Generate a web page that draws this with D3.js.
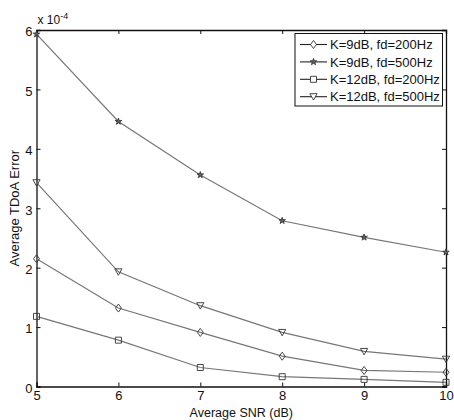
<!DOCTYPE html>
<html>
<head>
<meta charset="utf-8">
<script src="https://cdn.jsdelivr.net/npm/d3@7"></script>
<style>
  html, body { margin: 0; padding: 0; background: #fff; }
  svg { display: block; font-family: "Liberation Sans", Arial, sans-serif; }
</style>
</head>
<body>
<svg id="chart" width="454" height="420"></svg>
<script>
// SNR values on the x axis (dB)
const snr = [5, 6, 7, 8, 9, 10];

// Average TDoA error, in units of 1e-4
const k9fd200  = [2.15, 1.32, 0.91, 0.51, 0.27, 0.24];
const k9fd500  = [5.93, 4.46, 3.56, 2.79, 2.51, 2.26];
const k12fd200 = [1.18, 0.78, 0.32, 0.165, 0.12, 0.07];
const k12fd500 = [3.43, 1.93, 1.36, 0.91, 0.59, 0.46];

const seriesNames = ["K=9dB, fd=200Hz", "K=9dB, fd=500Hz", "K=12dB, fd=200Hz", "K=12dB, fd=500Hz"];
const seriesValues = [k9fd200, k9fd500, k12fd200, k12fd500];
const seriesMarkers = ["diamond", "star", "square", "triangle"];

const xTicks = [5, 6, 7, 8, 9, 10];
const yTicks = [0, 1, 2, 3, 4, 5, 6];

const svg = d3.select("#chart");
const margin = { left: 36.5, right: 8, top: 30, bottom: 33.5 };
const W = 454, H = 420;

const x = d3.scaleLinear().domain([5, 10]).range([margin.left, W - margin.right]);
const y = d3.scaleLinear().domain([0, 6]).range([H - margin.bottom, margin.top]);

const lineColor = "#777";
const markColor = "#333";

// Marker path generators centred on (0,0)
function markerPath(type) {
  switch (type) {
    case "diamond": return "M0,-4L3,0L0,4L-3,0Z";
    case "square": return "M-3,-3L3,-3L3,3L-3,3Z";
    case "triangle": return "M-3.6,-3L3.6,-3L0,3.4Z";
    case "star": return d3.symbol(d3.symbolStar, 13)();
  }
}

// Axes: ticks pointing inwards on all four sides
const plot = svg.append("g");
const axisFont = "13px";

const xAxis = d3.axisBottom(x).tickValues(xTicks).tickSize(-4).tickPadding(4).tickFormat(d3.format("d"));
const gx = plot.append("g").attr("transform", `translate(0,${y(0)})`).call(xAxis);
const xTop = d3.axisTop(x).tickValues(xTicks).tickSize(-4).tickFormat("");
const gxt = plot.append("g").attr("transform", `translate(0,${y(6)})`).call(xTop);

const yAxis = d3.axisLeft(y).tickValues(yTicks).tickSize(-4).tickPadding(4).tickFormat(d3.format("d"));
const gy = plot.append("g").attr("transform", `translate(${x(5)},0)`).call(yAxis);
const yRight = d3.axisRight(y).tickValues(yTicks).tickSize(-4).tickFormat("");
const gyr = plot.append("g").attr("transform", `translate(${x(10)},0)`).call(yRight);

[gx, gxt, gy, gyr].forEach(g => {
  g.select(".domain").attr("stroke", "#111").attr("stroke-width", 1.3);
  g.selectAll(".tick line").attr("stroke", "#111").attr("stroke-width", 1);
  g.selectAll("text").attr("font-size", axisFont).attr("fill", "#111")
    .attr("font-family", "'Liberation Sans', Arial, sans-serif");
});
gy.selectAll("text").attr("dy", "0.45em");
gx.selectAll("text").attr("dy", "0.7em");

// Exponent label
const expo = svg.append("text").attr("x", x(5) + 1).attr("y", 24)
  .attr("font-size", "12px").attr("fill", "#111");
expo.append("tspan").text("x 10");
expo.append("tspan").attr("dy", -5).attr("font-size", "9px").text("-4");

// Axis titles
svg.append("text").attr("x", (x(5) + x(10)) / 2).attr("y", 417)
  .attr("text-anchor", "middle").attr("font-size", "12.5px").attr("fill", "#111")
  .text("Average SNR (dB)");
svg.append("text").attr("transform", `translate(19,${(y(0) + y(6)) / 2}) rotate(-90)`)
  .attr("text-anchor", "middle").attr("font-size", "13px").attr("fill", "#111")
  .text("Average TDoA Error");

// Series lines and markers
const line = d3.line().x((d, i) => x(snr[i])).y(d => y(d));
seriesValues.forEach((vals, si) => {
  plot.append("path").datum(vals).attr("d", line)
    .attr("fill", "none").attr("stroke", lineColor).attr("stroke-width", 1.2);
  plot.selectAll(null).data(vals).enter().append("path")
    .attr("d", markerPath(seriesMarkers[si]))
    .attr("transform", (d, i) => `translate(${x(snr[i])},${y(d)})`)
    .attr("fill", seriesMarkers[si] === "star" ? "#666" : "none")
    .attr("stroke", markColor).attr("stroke-width", 0.9);
});

// Legend
const lg = svg.append("g").attr("transform", "translate(295,33.5)");
lg.append("rect").attr("width", 147.5).attr("height", 72.5)
  .attr("fill", "#fff").attr("stroke", "#111").attr("stroke-width", 1);
seriesNames.forEach((name, i) => {
  const ry = 11 + i * 17.4;
  lg.append("line").attr("x1", 5).attr("x2", 32).attr("y1", ry).attr("y2", ry)
    .attr("stroke", "#222").attr("stroke-width", 1.1);
  lg.append("path").attr("d", markerPath(seriesMarkers[i]))
    .attr("transform", `translate(18.5,${ry})`)
    .attr("fill", seriesMarkers[i] === "star" ? "#666" : "#fff")
    .attr("stroke", markColor).attr("stroke-width", 0.9);
  lg.append("text").attr("x", 35).attr("y", ry).attr("dy", "0.36em")
    .attr("font-size", "13px").attr("fill", "#111").text(name);
});
</script>
</body>
</html>
